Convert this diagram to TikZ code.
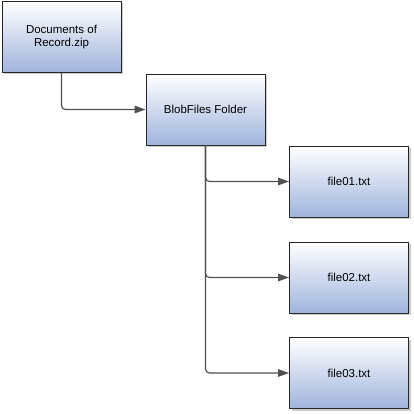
\documentclass[tikz,border=0pt]{standalone}
\usepackage{fontspec}
\setmainfont{Liberation Sans}
\usetikzlibrary{shapes,arrows.meta,positioning,shadows}
\definecolor{boxblue}{RGB}{160,180,221}
\definecolor{linegray}{RGB}{80,80,80}
\tikzset{basic/.style={draw=black!85,line width=0.9pt,top color=white,bottom color=boxblue,minimum width=119pt,minimum height=71pt,align=center,font=\fontsize{11.5}{13.5}\selectfont,drop shadow={shadow xshift=2pt,shadow yshift=-2pt,fill=black!40}}}
\tikzset{folder/.style={basic}}
\tikzset{file/.style={basic}}
\tikzset{arrow/.style={draw=linegray,line width=1.2pt,rounded corners=4pt,-{Triangle[length=11pt,width=7.5pt]}}}

\begin{document}
\begin{tikzpicture}[x=1pt,y=-1pt]
    \useasboundingbox (0,0) rectangle (414,414);

    \node[basic] (zip) at (61.5,37) {Documents of\\Record.zip};
    \node[folder] (blob) at (205.5,109.5) {BlobFiles Folder};

    \node[file] (f1) at (349,181.5) {file01.txt};
    \node[file] (f2) at (349,277.5) {file02.txt};
    \node[file] (f3) at (349,373) {file03.txt};

        \path[arrow] (zip.south) |- (blob.west);
        \path[arrow] (blob.south) |- (f1.west);
        \path[arrow] (blob.south) |- (f2.west);
        \path[arrow] (blob.south) |- (f3.west);
      \end{tikzpicture}
\end{document}
